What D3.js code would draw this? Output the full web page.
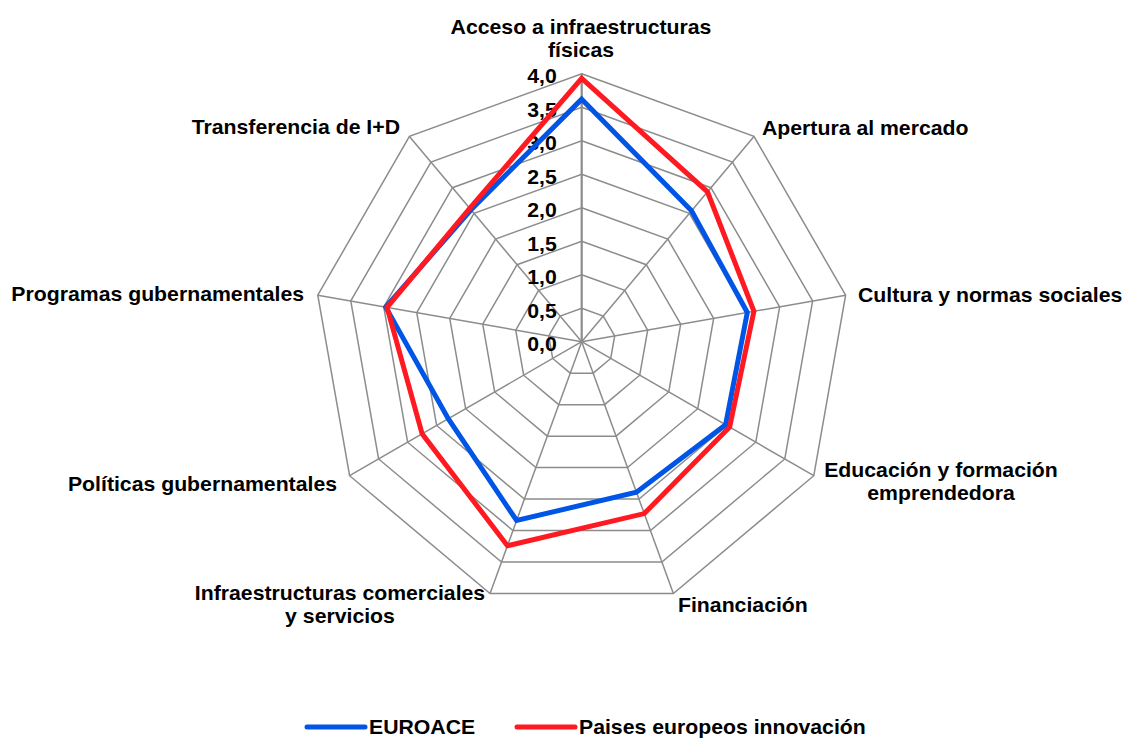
<!DOCTYPE html>
<html>
<head>
<meta charset="utf-8">
<script src="https://cdn.jsdelivr.net/npm/d3@7"></script>
<style>
  body { margin: 0; background: #fff; }
  svg text { font-family: "Liberation Sans", Arial, sans-serif; font-weight: bold; fill: #000; }
</style>
</head>
<body>
<div id="chart"></div>
<script>
const categories = [
    ["Acceso a infraestructuras", "físicas"],
    ["Apertura al mercado"],
    ["Cultura y normas sociales"],
    ["Educación y formación", "emprendedora"],
    ["Financiación"],
    ["Infraestructuras comerciales", "y servicios"],
    ["Políticas gubernamentales"],
    ["Programas gubernamentales"],
    ["Transferencia de I+D"]
];
const euroace = [3.62, 2.55, 2.51, 2.48, 2.39, 2.84, 2.3, 2.97, 2.57];
const innovacion = [3.93, 2.92, 2.61, 2.55, 2.73, 3.24, 2.75, 2.95, 2.6];
const ticks = [0, 0.5, 1, 1.5, 2, 2.5, 3, 3.5, 4];
const seriesNames = ["EUROACE", "Paises europeos innovación"];
const seriesColors = ["#0055e6", "#ff1a22"];

const width = 1126, height = 738;
const cx = 581.7, cy = 341.7;
const fontSize = 19.5, stretch = 1.09; // the original text is a bit wider than Arial

const svg = d3.select("#chart").append("svg")
    .attr("width", width)
    .attr("height", height);

const r = d3.scaleLinear().domain([0, 4]).range([0, 268]);
const n = categories.length;
const angle = d3.scaleLinear().domain([0, n]).range([0, 2 * Math.PI]);

function pt(i, v) {
    const a = angle(i);
    return [cx + r(v) * Math.sin(a), cy - r(v) * Math.cos(a)];
}

function place(x, y) {
    return `translate(${x},${y}) scale(${stretch},1)`;
}

// grid rings
const ring = d3.line().curve(d3.curveLinearClosed);
svg.append("g").selectAll("path")
    .data(ticks.slice(1))
    .join("path")
    .attr("d", t => ring(d3.range(n).map(i => pt(i, t))))
    .attr("fill", "none")
    .attr("stroke", "#8c8c8c")
    .attr("stroke-width", 1.5);

// spokes
svg.append("g").selectAll("line")
    .data(d3.range(n))
    .join("line")
    .attr("x1", cx).attr("y1", cy)
    .attr("x2", i => pt(i, 4)[0])
    .attr("y2", i => pt(i, 4)[1])
    .attr("stroke", "#8c8c8c")
    .attr("stroke-width", i => i === 0 ? 2.2 : 1.5);

// tick labels
svg.append("g").selectAll("text")
    .data(ticks)
    .join("text")
    .attr("transform", t => place(cx - 25, cy - r(t) + 9.5))
    .attr("text-anchor", "end")
    .attr("font-size", fontSize)
    .text(t => d3.format(".1f")(t).replace(".", ","));

// series
const series = [euroace, innovacion];
svg.append("g").selectAll("path")
    .data(series)
    .join("path")
    .attr("d", s => ring(s.map((v, i) => pt(i, v))))
    .attr("fill", "none")
    .attr("stroke", (s, k) => seriesColors[k])
    .attr("stroke-width", 5)
    .attr("stroke-linejoin", "miter");

// category labels
const labelPos = [
    { x: 581, y: 34, anchor: "middle" },
    { x: 762, y: 135, anchor: "start" },
    { x: 858, y: 302, anchor: "start" },
    { x: 941, y: 477, anchor: "middle" },
    { x: 678, y: 612, anchor: "start" },
    { x: 340, y: 600, anchor: "middle" },
    { x: 337, y: 491, anchor: "end" },
    { x: 304, y: 301, anchor: "end" },
    { x: 400, y: 134, anchor: "end" }
];
const lab = svg.append("g").selectAll("text")
    .data(categories)
    .join("text")
    .attr("transform", (c, i) => place(labelPos[i].x, labelPos[i].y))
    .attr("text-anchor", (c, i) => labelPos[i].anchor)
    .attr("font-size", fontSize);
lab.selectAll("tspan")
    .data(c => c)
    .join("tspan")
    .attr("x", 0)
    .attr("dy", (d, j) => j === 0 ? 0 : 23.5)
    .text(d => d);

// legend
const legX = [307, 517];
const leg = svg.append("g").selectAll("g")
    .data(seriesNames)
    .join("g")
    .attr("transform", (d, k) => `translate(${legX[k]},727)`);
leg.append("line")
    .attr("x1", 0).attr("x2", 58)
    .attr("stroke", (d, k) => seriesColors[k])
    .attr("stroke-width", 5)
    .attr("stroke-linecap", "round");
leg.append("text")
    .attr("transform", place(62, 7))
    .attr("font-size", fontSize)
    .text(d => d);
</script>
</body>
</html>
